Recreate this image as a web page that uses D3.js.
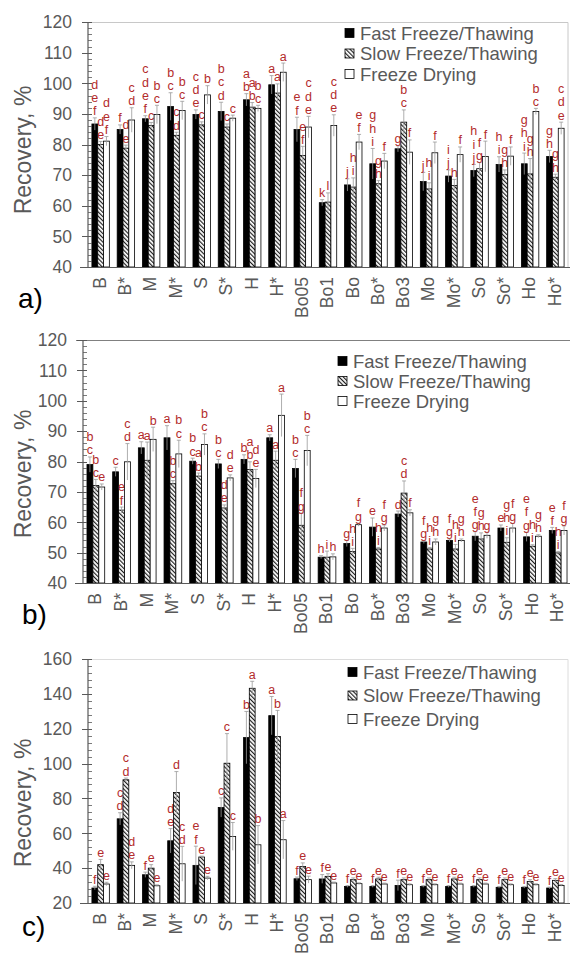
<!DOCTYPE html>
<html>
<head>
<meta charset="utf-8">
<script src="https://cdn.jsdelivr.net/npm/d3@7/dist/d3.min.js"></script>
<style>
  body { margin: 0; background: #fff; }
  svg { display: block; font-family: "Liberation Sans", Arial, sans-serif; }
</style>
</head>
<body>
<svg id="chart" width="570" height="955"></svg>
<script>
// categories (same for all three panels)
var categories = ["B", "B*", "M", "M*", "S", "S*", "H", "H*", "Bo05", "Bo1", "Bo", "Bo*", "Bo3", "Mo", "Mo*", "So", "So*", "Ho", "Ho*"];
var seriesNames = ["Fast Freeze/Thawing", "Slow Freeze/Thawing", "Freeze Drying"];

// panel a
var fastA = [86.7, 84.9, 88.4, 92.4, 89.8, 90.8, 94.6, 99.5, 84.9, 61.0, 66.8, 73.7, 78.6, 67.9, 69.7, 71.5, 73.5, 73.7, 76.1];
var slowA = [80.0, 78.8, 86.2, 83.0, 86.4, 85.7, 92.2, 96.8, 76.4, 61.2, 66.1, 67.2, 87.3, 65.5, 66.6, 72.1, 70.2, 70.4, 69.3];
var dryA  = [81.1, 88.0, 89.8, 91.1, 96.2, 88.6, 91.8, 103.6, 85.7, 86.2, 80.8, 74.6, 77.5, 77.3, 76.7, 76.1, 76.2, 90.8, 85.3];
var errFastA = [2, 1.5, 1, 4.5, 1.5, 3, 2, 3, 4, 1, 2, 5, 1, 3, 2, 2, 2.5, 3.5, 2];
var errSlowA = [1, 1, 1, 1, 1, 1, 1.5, 3, 3, 3, 3, 1, 4, 2, 2, 2, 1.5, 5, 1];
var errDryA  = [1.5, 4, 3, 3, 3, 1, 1, 3, 3.5, 3.5, 2.5, 2.5, 4, 3.5, 2.5, 5, 3, 1, 2];
var letFastA = ["def", "f", "cdef", "bc", "cde", "bcd", "ab", "a", "ef", "k", "j", "ghi", "g", "j", "ij", "hij", "hi", "ghi", "gh"];
var letSlowA = ["de", "de", "c", "cd", "c", "c", "ab", "a", "ef", "l", "hi", "gh", "bc", "hi", "h", "fg", "gh", "gh", "gh"];
var letDryA  = ["def", "cd", "bc", "bc", "b", "c", "bc", "a", "cde", "cde", "ef", "f", "f", "f", "f", "f", "f", "bc", "cde"];

// panel b
var fastB = [79.0, 76.6, 84.5, 87.8, 80.1, 79.2, 80.7, 87.8, 77.7, 48.5, 53.0, 58.4, 62.7, 53.5, 54.0, 55.4, 58.1, 55.2, 57.3];
var slowB = [72.1, 64.0, 80.4, 72.7, 75.2, 64.7, 77.4, 80.4, 59.0, 48.5, 50.4, 51.2, 69.6, 51.2, 51.2, 54.5, 53.4, 52.1, 49.9];
var dryB  = [71.6, 79.9, 87.3, 82.5, 85.6, 74.6, 74.4, 95.2, 83.6, 48.6, 59.2, 58.1, 63.1, 53.5, 54.0, 55.7, 58.1, 55.4, 57.3];
var errFastB = [2.5, 1.5, 2, 4, 1, 1.5, 1.5, 1, 3, 0.5, 1, 3, 1, 0.5, 0.5, 1.5, 1, 1.5, 1];
var errSlowB = [2, 1, 6, 1, 1, 1, 2.5, 3, 4, 2, 1, 0.5, 4, 0.5, 1.5, 2, 1.5, 0.5, 0.5];
var errDryB  = [1, 6, 4, 4.5, 3.5, 1, 3, 7, 5, 1, 0.5, 1, 1, 1, 0.5, 1, 1.5, 0.5, 1.5];
var letFastB = ["bc", "c", "a", "a", "bc", "bc", "b", "a", "bc", "h", "g", "e", "d", "fg", "fg", "efg", "e", "efg", "ef"];
var letSlowB = ["bc", "ef", "a", "bc", "ab", "de", "ab", "a", "fg", "i", "hi", "hi", "cd", "hi", "hi", "gh", "ghi", "hi", "hi"];
var letDryB  = ["e", "cd", "b", "bc", "bc", "de", "de", "a", "bc", "h", "fg", "fg", "f", "gh", "gh", "g", "fg", "gh", "fg"];

// panel c
var fastC = [28.6, 68.3, 36.2, 55.7, 41.6, 74.8, 114.9, 127.5, 33.9, 33.8, 29.5, 29.5, 30.1, 29.5, 29.5, 29.5, 29.0, 29.0, 28.6];
var slowC = [42.0, 90.7, 40.0, 83.4, 46.4, 100.2, 143.2, 115.5, 41.0, 35.3, 33.4, 33.8, 33.4, 33.4, 33.8, 33.4, 33.4, 32.4, 33.0];
var dryC  = [30.9, 41.6, 29.9, 42.5, 34.3, 58.2, 53.4, 56.3, 33.4, 31.5, 31.1, 30.9, 30.5, 30.5, 30.9, 30.9, 30.5, 30.5, 30.1];
var errFastC = [1, 3.5, 1.5, 7, 11, 5.5, 15, 11, 1, 2.5, 0.5, 0.5, 3, 0.5, 0.5, 0.5, 0.5, 0.5, 0.5];
var errSlowC = [3, 1, 2, 12, 0.5, 17, 4, 15, 2, 1.5, 1, 1, 1, 1, 1, 1, 1, 1, 1];
var errDryC  = [1, 2, 0.5, 10, 1, 8, 11, 11, 2, 0.5, 0.5, 0.5, 0.5, 0.5, 0.5, 0.5, 0.5, 0.5, 0.5];
var letFastC = ["f", "cd", "f", "de", "ef", "c", "b", "a", "f", "f", "f", "f", "f", "f", "f", "f", "f", "f", "f"];
var letSlowC = ["e", "cd", "e", "d", "e", "c", "a", "b", "e", "e", "e", "e", "e", "e", "e", "e", "e", "e", "e"];
var letDryC  = ["e", "de", "e", "cd", "e", "c", "b", "a", "e", "e", "e", "e", "e", "e", "e", "e", "e", "e", "e"];

var svg = d3.select("#chart");
var grey = "#595959";

// hatch pattern for slow freeze/thawing
var defs = svg.append("defs");
var pat = defs.append("pattern")
  .attr("id", "hatch")
  .attr("patternUnits", "userSpaceOnUse")
  .attr("width", 3).attr("height", 3)
  .attr("patternTransform", "rotate(-45)");
pat.append("rect").attr("width", 3).attr("height", 3).attr("fill", "#fff");
pat.append("line").attr("x1", 0.6).attr("x2", 0.6).attr("y1", 0).attr("y2", 3)
  .attr("stroke", "#111").attr("stroke-width", 1.1);

var fills = ["#000", "url(#hatch)", "#fff"];

function drawPanel(p) {
  var g = svg.append("g");
  var x = d3.scaleBand().domain(categories).range([p.left, p.right]).paddingInner(0.31).paddingOuter(0.155);
  var xs = d3.scaleBand().domain([0, 1, 2]).range([0, x.bandwidth()]);
  var y = d3.scaleLinear().domain(p.domain).range([p.bottom, p.top]);

  // frame (top + right)
  g.append("path")
    .attr("d", "M" + p.frameX + "," + (p.top + 0.5) + "H" + p.right + "V" + p.bottom)
    .attr("fill", "none").attr("stroke", p.frame).attr("stroke-width", 1);

  var series = [p.fast, p.slow, p.dry];
  var errs = [p.errFast, p.errSlow, p.errDry];
  var lets = [p.letFast, p.letSlow, p.letDry];

  series.forEach(function(vals, s) {
    var bx = function(d, i) { return x(categories[i]) + xs(s); };
    g.selectAll(".bar" + s)
      .data(vals)
      .enter()
      .append("rect")
      .attr("x", bx)
      .attr("width", xs.bandwidth())
      .attr("y", function(d) { return y(d); })
      .attr("height", function(d) { return p.bottom - y(d); })
      .attr("fill", fills[s])
      .attr("stroke", "#000")
      .attr("stroke-width", 0.8);

    // error bars
    var eg = g.selectAll(".err" + s)
      .data(vals)
      .enter()
      .append("g")
      .attr("transform", function(d, i) { return "translate(" + (bx(d, i) + xs.bandwidth() / 2) + ",0)"; });
    eg.append("line")
      .attr("y1", function(d, i) { return y(Math.max(d - errs[s][i], p.domain[0])); })
      .attr("y2", function(d, i) { return y(d + errs[s][i]); })
      .attr("stroke", "#999").attr("stroke-width", 0.8);
    eg.append("line")
      .attr("x1", -2).attr("x2", 2)
      .attr("y1", function(d, i) { return y(d + errs[s][i]); })
      .attr("y2", function(d, i) { return y(d + errs[s][i]); })
      .attr("stroke", "#999").attr("stroke-width", 0.8);

    // significance letters, stacked
    eg.each(function(d, i) {
      var chars = lets[s][i].split("");
      var base = y(d + errs[s][i]) - 2.5;
      d3.select(this).selectAll("text")
        .data(chars)
        .enter()
        .append("text")
        .attr("y", function(c, k) { return base - (chars.length - 1 - k) * 13.3; })
        .attr("text-anchor", "middle")
        .attr("font-size", 12.5)
        .attr("fill", "#b32b2b")
        .text(function(c) { return c; });
    });
  });

  // y axis
  var ticks = d3.range(p.domain[0], p.domain[1] + 1, p.step);
  var minor = d3.range(p.domain[0], p.domain[1] + 0.1, p.minor);
  g.selectAll(".minor").data(minor).enter().append("line")
    .attr("x1", p.left).attr("x2", p.left + 4)
    .attr("y1", function(d) { return Math.round(y(d)) + 0.5; })
    .attr("y2", function(d) { return Math.round(y(d)) + 0.5; })
    .attr("stroke", grey).attr("stroke-width", 0.8);
  g.selectAll(".major").data(ticks).enter().append("line")
    .attr("x1", p.left - 6).attr("x2", p.left + 4)
    .attr("y1", function(d) { return Math.round(y(d)) + 0.5; })
    .attr("y2", function(d) { return Math.round(y(d)) + 0.5; })
    .attr("stroke", grey).attr("stroke-width", 1);
  g.selectAll(".ylab").data(ticks).enter().append("text")
    .attr("x", p.left - 16)
    .attr("y", function(d) { return y(d); })
    .attr("dy", "0.36em")
    .attr("text-anchor", "end")
    .attr("font-size", 17.5)
    .attr("fill", grey)
    .text(function(d) { return d; });
  g.append("line")
    .attr("x1", p.left).attr("x2", p.left)
    .attr("y1", p.top).attr("y2", p.bottom)
    .attr("stroke", grey).attr("stroke-width", 1.2);
  g.append("line")
    .attr("x1", p.left - 8).attr("x2", 570)
    .attr("y1", p.bottom + 0.5).attr("y2", p.bottom + 0.5)
    .attr("stroke", grey).attr("stroke-width", 1.2);

  // x labels, rotated
  g.selectAll(".xlab").data(categories).enter().append("text")
    .attr("transform", function(d) { return "translate(" + (x(d) + x.bandwidth() / 2 - 1) + "," + (p.bottom + 10) + ") rotate(-90)"; })
    .attr("dy", "0.36em")
    .attr("text-anchor", "end")
    .attr("font-size", 17.5)
    .attr("fill", grey)
    .text(function(d) { return d; });

  // y title
  g.append("text")
    .attr("transform", "translate(31," + p.titleY + ") rotate(-90)")
    .attr("text-anchor", "middle")
    .attr("font-size", 23)
    .attr("fill", grey)
    .text("Recovery, %");

  // panel label
  g.append("text")
    .attr("x", p.labX).attr("y", p.labY)
    .attr("font-size", 28)
    .attr("fill", "#000")
    .text(p.label);

  // legend
  var lg = g.selectAll(".leg").data(seriesNames).enter().append("g")
    .attr("transform", function(d, i) { return "translate(" + p.legX + "," + (p.legY + i * p.legStep) + ")"; });
  lg.append("rect")
    .attr("x", 0).attr("y", -4.5).attr("width", 9).attr("height", 9)
    .attr("fill", function(d, i) { return fills[i]; })
    .attr("stroke", "#000").attr("stroke-width", 0.8);
  lg.append("text")
    .attr("x", 15).attr("dy", "0.36em")
    .attr("font-size", 18.5)
    .attr("fill", grey)
    .text(function(d) { return d; });
}

drawPanel({
  left: 88, right: 568, top: 22, bottom: 267, domain: [40, 120], step: 10, minor: 2,
  fast: fastA, slow: slowA, dry: dryA, errFast: errFastA, errSlow: errSlowA, errDry: errDryA,
  letFast: letFastA, letSlow: letSlowA, letDry: letDryA,
  frame: "#c8c8c8", frameX: 88, titleY: 150, label: "a)", labX: 18, labY: 308,
  legX: 345, legY: 33, legStep: 20.5
});
drawPanel({
  left: 83, right: 571, top: 340, bottom: 583, domain: [40, 120], step: 10, minor: 2,
  fast: fastB, slow: slowB, dry: dryB, errFast: errFastB, errSlow: errSlowB, errDry: errDryB,
  letFast: letFastB, letSlow: letSlowB, letDry: letDryB,
  frame: "#808080", frameX: 76, titleY: 474, label: "b)", labX: 22, labY: 624,
  legX: 338, legY: 361, legStep: 20
});
drawPanel({
  left: 88, right: 568, top: 659, bottom: 903, domain: [20, 160], step: 20, minor: 4,
  fast: fastC, slow: slowC, dry: dryC, errFast: errFastC, errSlow: errSlowC, errDry: errDryC,
  letFast: letFastC, letSlow: letSlowC, letDry: letDryC,
  frame: "#dcdcdc", frameX: 88, titleY: 803, label: "c)", labX: 22, labY: 936,
  legX: 348, legY: 672, legStep: 23.5
});
</script>
</body>
</html>
